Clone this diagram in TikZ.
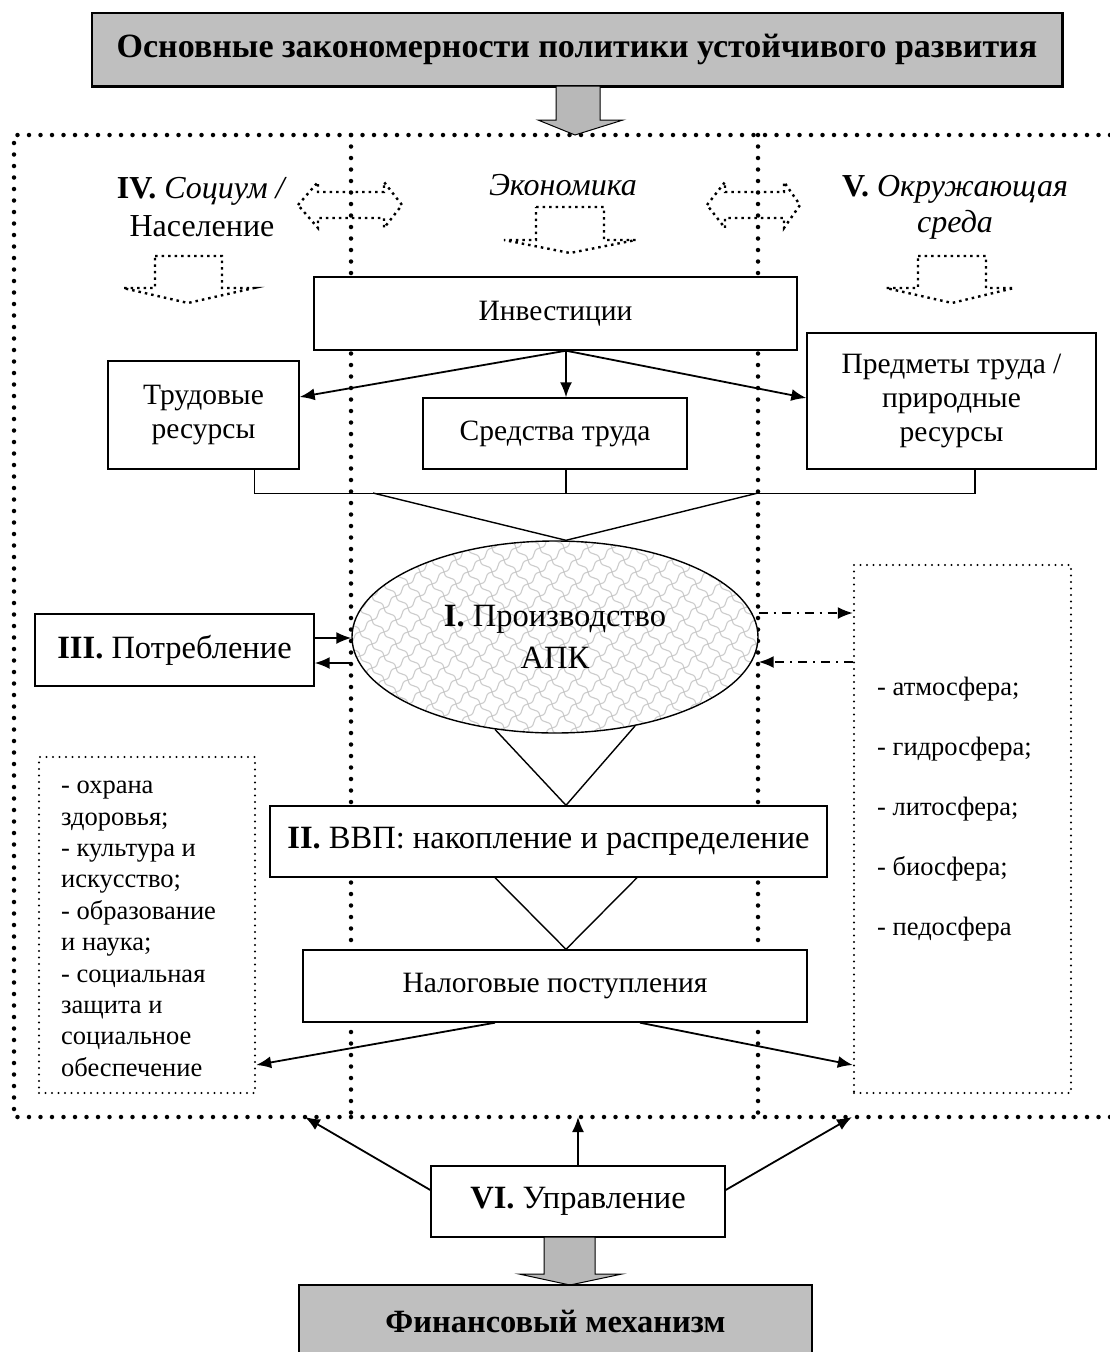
\documentclass[tikz,border=0pt]{standalone}
\usepackage{fontspec}
\setmainfont{Liberation Serif}
\usetikzlibrary{arrows.meta, shapes.geometric, patterns}

% light "chain" texture for the production ellipse
\pgfdeclarepatternformonly{scales}{\pgfqpoint{-1pt}{-1pt}}{\pgfqpoint{25pt}{25pt}}{\pgfqpoint{24pt}{24pt}}{%
  \pgfsetlinewidth{1.1pt}%
  \pgfpathmoveto{\pgfqpoint{0pt}{0pt}}%
  \pgfpathcurveto{\pgfqpoint{10pt}{2pt}}{\pgfqpoint{2pt}{10pt}}{\pgfqpoint{12pt}{12pt}}%
  \pgfpathcurveto{\pgfqpoint{22pt}{14pt}}{\pgfqpoint{14pt}{22pt}}{\pgfqpoint{24pt}{24pt}}%
  \pgfpathmoveto{\pgfqpoint{0pt}{24pt}}%
  \pgfpathcurveto{\pgfqpoint{2pt}{14pt}}{\pgfqpoint{10pt}{22pt}}{\pgfqpoint{12pt}{12pt}}%
  \pgfpathcurveto{\pgfqpoint{14pt}{2pt}}{\pgfqpoint{22pt}{10pt}}{\pgfqpoint{24pt}{0pt}}%
  \pgfusepath{stroke}}

\begin{document}
\begin{tikzpicture}[x=1pt, y=-1pt,
        font=\fontsize{29.5}{34}\selectfont,
        big/.style={font=\fontsize{32.5}{42}\selectfont},
        list/.style={anchor=north west, align=left, inner sep=0pt},
        box/.style={draw, line width=1.4pt, fill=white, inner sep=0pt, align=center},
        graybox/.style={box, fill=black!25},
        bigdots/.style={line width=4.5pt, line cap=round, dash pattern=on 0pt off 11.5pt},
        smalldots/.style={draw, line width=2.4pt, line cap=round, dash pattern=on 0pt off 6.5pt},
        hollow/.style={line width=2.4pt, dash pattern=on 2.5pt off 4pt},
        rel/.style={-{Latex[length=15pt,width=12pt]}, line width=1.8pt},
        dashdot/.style={rel, dash pattern=on 9pt off 6pt on 2pt off 6pt},
        link/.style={line width=1.4pt},
        fatarrow/.style={draw, line width=1pt, fill=black!28}
    ]
        \useasboundingbox (0,0) rectangle (1110,1352);

        % frame: society / economy / environment
        \draw[bigdots] (1110,135) -- (14,135) -- (14,1117) -- (1110,1117);
        \draw[bigdots] (351,135) -- (351,1117);
        \draw[bigdots] (758,135) -- (758,1117);
        \coordinate (mid) at (566,0);
        \coordinate (fl) at (305,1117);
        \coordinate (fm) at (578,1117);
        \coordinate (fr) at (852,1117);

        % title
        \node[graybox, minimum width=970pt, minimum height=73pt, font=\fontsize{34}{38}\selectfont\bfseries] (title) at (577,49.5) {Основные закономерности политики устойчивого развития};
        \draw[line width=3pt] (title.north east) -- (title.south east) -- (title.south west);
        \draw[fatarrow] (556,86) -- (600,86) -- (600,120) -- (623,120) -- (575,135) -- (538,120) -- (556,120) -- cycle;

        % column heads
        \node[align=center, font=\fontsize{32}{38}\selectfont] (soc) at (202,207) {\textbf{IV.} \textit{Социум /}\\Население};
        \node[anchor=base, font=\fontsize{32}{38}\selectfont\itshape] (econ) at (563,195) {Экономика};
        \node[align=center, font=\fontsize{32}{36}\selectfont] (envhead) at (955,207) {\textbf{V.} \textit{Окружающая}\\\textit{среда}};

        \draw[hollow] (298,205) -- (318,182) -- (318,192) -- (384,192) -- (384,182) -- (402,205) -- (384,228) -- (384,218) -- (318,218) -- (318,228) -- cycle;
        \draw[hollow] (707,205) -- (725,182) -- (725,192) -- (784,192) -- (784,182) -- (800,205) -- (784,228) -- (784,218) -- (725,218) -- (725,228) -- cycle;
        \draw[hollow] (155,256) -- (222,256) -- (222,288) -- (254,288) -- (188,303) -- (123,288) -- (155,288) -- cycle;
        \draw[hollow] (536,207) -- (604,207) -- (604,240) -- (636,240) -- (570,253) -- (504,240) -- (536,240) -- cycle;
        \draw[hollow] (918,256) -- (986,256) -- (986,288) -- (1014,288) -- (952,303) -- (886,288) -- (918,288) -- cycle;

        % resources
        \node[box, minimum width=483pt, minimum height=73pt] (inv) at (555.5,313.5) {Инвестиции};
        \node[box, minimum width=191pt, minimum height=108pt] (trud) at (203.5,415) {Трудовые\\ресурсы};
        \node[box, minimum width=264pt, minimum height=71pt] (sred) at (555,433.5) {Средства труда};
        \node[box, minimum width=289pt, minimum height=136pt] (pred) at (951.5,401) {Предметы труда /\\природные\\ресурсы};
        \draw[rel] (inv.south -| mid) -- (sred.north -| mid);
        \draw[rel] (inv.south -| mid) -- ([yshift=18pt]trud.east);
        \draw[rel] (inv.south -| mid) -- ([yshift=3pt]pred.west);

        % production
        \node[ellipse, draw, line width=1.4pt, preaction={fill=white}, pattern=scales, pattern color=black!20,
              minimum width=406pt, minimum height=192pt, inner sep=0pt, align=center, big] (prod) at (555,637) {\textbf{I.} Производство\\АПК};
        \coordinate (bl) at (373,493);
        \coordinate (br) at (758,493);
        \draw[link] ([xshift=51pt]trud.south) -- ++(0,24) -| ([xshift=23.5pt]pred.south);
        \draw[link] (sred.south -| mid) -- ++(0,24);
        \draw[link] (bl) -- (prod.north -| mid) -- (br);

        \node[box, big, minimum width=279pt, minimum height=72pt] (potr) at (174.5,650) {\textbf{III.} Потребление};
        \draw[rel] ([yshift=12pt]potr.east) -- ([yshift=12pt]potr.east -| prod.west);
        \draw[rel] ([yshift=-13pt]potr.east -| prod.west) -- ([yshift=-13pt]potr.east);

        % environment spheres
        \node[smalldots, minimum width=217pt, minimum height=528pt] (envbox) at (962.5,829) {};
        \node[list, font=\fontsize{26.5}{60}\selectfont] (envlist) at (877,677)
            {- атмосфера;\\- гидросфера;\\- литосфера;\\- биосфера;\\- педосфера};
        \draw[dashdot] ([yshift=24pt]prod.east) -- ([yshift=24pt]prod.east -| envbox.west);
        \draw[dashdot] ([yshift=-25pt]prod.east -| envbox.west) -- ([yshift=-25pt]prod.east);

        % social sphere
        \node[smalldots, minimum width=216pt, minimum height=336pt] (socbox) at (147,925) {};
        \node[list, font=\fontsize{26.5}{31.4}\selectfont] (soclist) at (61,781)
            {- охрана\\здоровья;\\- культура и\\искусство;\\- образование\\и наука;\\- социальная\\защита и\\социальное\\обеспечение};

        % GDP and taxes
        \node[box, big, minimum width=557pt, minimum height=71pt] (gdp) at (548.5,841.5) {\textbf{II.} ВВП: накопление и распределение};
        \node[box, minimum width=504pt, minimum height=72pt] (tax) at (555,986) {Налоговые поступления};
        \draw[link] (prod.237) -- (gdp.north -| mid) -- (prod.-48);
        \draw[link] ([xshift=-53.5pt]gdp.south) -- (tax.north -| mid) -- ([xshift=88.5pt]gdp.south);
        \draw[rel] ([xshift=-60pt]tax.south) -- ([yshift=-140pt]socbox.east);
        \draw[rel] ([xshift=85pt]tax.south) -- ([yshift=-236pt]envbox.west);

        % management
        \node[box, big, minimum width=294pt, minimum height=71pt] (upr) at (578,1201.5) {\textbf{VI.} Управление};
        \draw[rel] ([yshift=11.5pt]upr.west) -- (fl);
        \draw[rel] (upr.north) -- (fm);
        \draw[rel] ([yshift=11.5pt]upr.east) -- (fr);
        \draw[fatarrow] (544,1237) -- (595,1237) -- (595,1274) -- (622,1274) -- (570,1285) -- (519,1274) -- (544,1274) -- cycle;
        \node[graybox, minimum width=513pt, minimum height=73pt, font=\fontsize{32.5}{36}\selectfont\bfseries] (fin) at (555.5,1321.5) {Финансовый механизм};
    \end{tikzpicture}
\end{document}
